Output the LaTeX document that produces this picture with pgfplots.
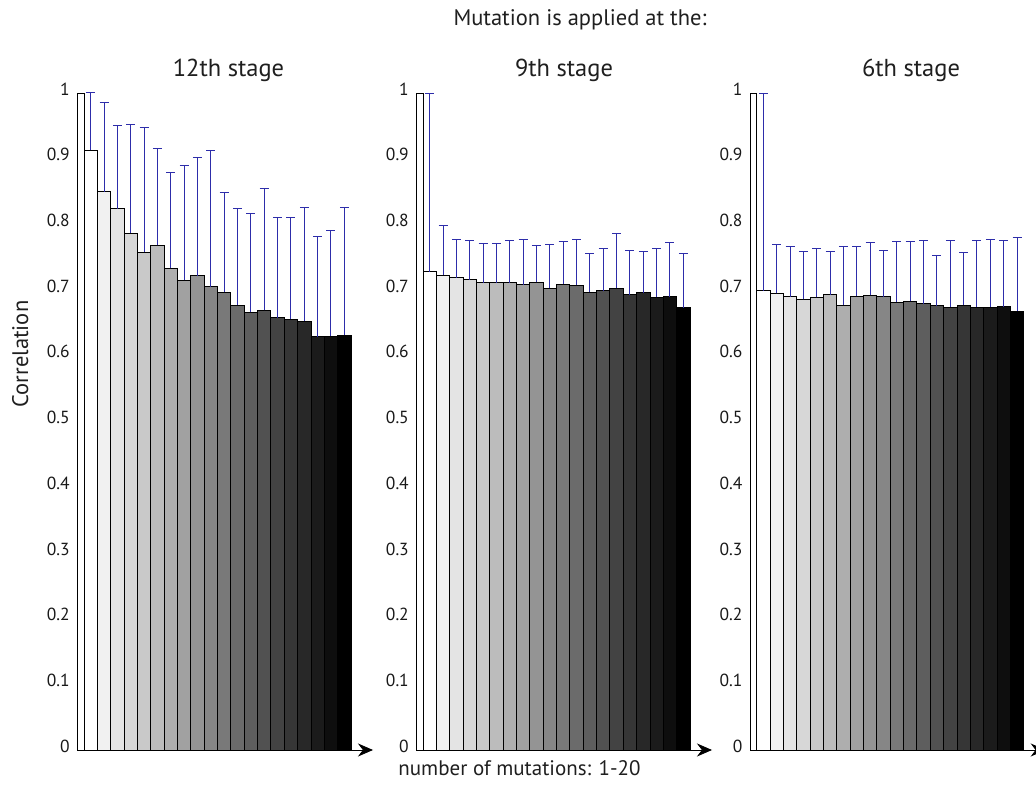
\documentclass[border=0pt]{standalone}
\usepackage{pgfplots}
\pgfplotsset{compat=1.18}
\usepackage{pgfplotstable}
\usepackage{fontspec}
\setmainfont{PT Sans}
\usetikzlibrary{arrows.meta}

\definecolor{eb}{RGB}{45,45,170}
\definecolor{g1}{gray}{1.000}
\definecolor{g2}{gray}{0.947}
\definecolor{g3}{gray}{0.895}
\definecolor{g4}{gray}{0.842}
\definecolor{g5}{gray}{0.789}
\definecolor{g6}{gray}{0.737}
\definecolor{g7}{gray}{0.684}
\definecolor{g8}{gray}{0.632}
\definecolor{g9}{gray}{0.579}
\definecolor{g10}{gray}{0.526}
\definecolor{g11}{gray}{0.474}
\definecolor{g12}{gray}{0.421}
\definecolor{g13}{gray}{0.368}
\definecolor{g14}{gray}{0.316}
\definecolor{g15}{gray}{0.263}
\definecolor{g16}{gray}{0.211}
\definecolor{g17}{gray}{0.158}
\definecolor{g18}{gray}{0.105}
\definecolor{g19}{gray}{0.053}
\definecolor{g20}{gray}{0.000}

% i = number of mutations, v = mean correlation, t = top of error bar
\pgfplotstableread{
i v t
1 0.913 1.000
2 0.850 0.985
3 0.824 0.951
4 0.787 0.952
5 0.758 0.947
6 0.768 0.915
7 0.733 0.879
8 0.715 0.890
9 0.722 0.902
10 0.705 0.912
11 0.697 0.848
12 0.677 0.824
13 0.666 0.816
14 0.669 0.854
15 0.658 0.811
16 0.656 0.811
17 0.653 0.825
18 0.629 0.782
19 0.630 0.790
20 0.631 0.825
}\dataA
\pgfplotstableread{
i v t
1 0.728 0.999
2 0.723 0.799
3 0.719 0.777
4 0.716 0.776
5 0.711 0.771
6 0.711 0.771
7 0.711 0.776
8 0.708 0.777
9 0.712 0.768
10 0.703 0.770
11 0.709 0.774
12 0.707 0.777
13 0.697 0.756
14 0.699 0.764
15 0.703 0.786
16 0.693 0.761
17 0.696 0.758
18 0.689 0.763
19 0.690 0.773
20 0.673 0.755
}\dataB
\pgfplotstableread{
i v t
1 0.699 0.999
2 0.695 0.769
3 0.690 0.766
4 0.686 0.758
5 0.689 0.763
6 0.693 0.758
7 0.677 0.767
8 0.691 0.766
9 0.692 0.772
10 0.690 0.760
11 0.682 0.774
12 0.683 0.774
13 0.679 0.775
14 0.676 0.752
15 0.674 0.776
16 0.677 0.757
17 0.674 0.776
18 0.674 0.777
19 0.675 0.776
20 0.668 0.780
}\dataC

\pgfplotsset{
  panel/.style={
    at={(#1,39bp)}, anchor=south west,
    x=13.35bp, y=657bp,
    xmin=0, xmax=22.15, ymin=0, ymax=1,
    clip=false,
    axis lines=left,
    x axis line style={-{Stealth[length=15bp,width=13bp]}, line width=0.9bp, black},
    y axis line style={-, line width=0.8bp, black},
    xtick=\empty,
    ytick={0,0.1,0.2,0.3,0.4,0.5,0.6,0.7,0.8,0.9,1},
    yticklabels={0,0.1,0.2,0.3,0.4,0.5,0.6,0.7,0.8,0.9,1},
    tick align=inside, major tick length=6bp,
    tick style={black, line width=0.7bp},
    /pgf/number format/assume math mode=true,
    yticklabel style={font=\fontsize{17.5bp}{20bp}\selectfont, text=black!90, yshift=4bp, xshift=-4bp},
  },
  bar/.style={ybar, bar width=1, bar shift=0pt, fill=g#1, draw=black, line width=0.8bp,
    restrict x to domain=#1:#1,
    error bars/.cd, y dir=plus, y explicit,
    error mark=-,
    error bar style={draw=eb, line width=1bp},
    error mark options={draw=eb, line width=1bp, rotate=90, mark size=4.5bp}},
}

\begin{document}
\begin{tikzpicture}
\path[use as bounding box] (0,0) rectangle (1036bp,789bp);

\begin{axis}[panel=77.3bp]
\addplot[ybar, bar width=0.5, bar shift=0pt, fill=white, draw=black, line width=0.8bp] coordinates {(0.25,1)};
\pgfplotsinvokeforeach{1,...,20}{
  \addplot[bar=#1] table[x=i, y=v, y error expr=\thisrow{t}-\thisrow{v}] {\dataA};
}
\end{axis}

\begin{axis}[panel=416.3bp]
\addplot[ybar, bar width=0.5, bar shift=0pt, fill=white, draw=black, line width=0.8bp] coordinates {(0.25,1)};
\pgfplotsinvokeforeach{1,...,20}{
  \addplot[bar=#1] table[x=i, y=v, y error expr=\thisrow{t}-\thisrow{v}] {\dataB};
}
\end{axis}

\begin{axis}[panel=750bp]
\addplot[ybar, bar width=0.5, bar shift=0pt, fill=white, draw=black, line width=0.8bp] coordinates {(0.25,1)};
\pgfplotsinvokeforeach{1,...,20}{
  \addplot[bar=#1] table[x=i, y=v, y error expr=\thisrow{t}-\thisrow{v}] {\dataC};
}
\end{axis}

\node[anchor=base, font=\fontsize{22.5bp}{26bp}\selectfont, text=black!88] at (580bp,763bp) {Mutation is applied at the:};
\node[anchor=base, font=\fontsize{24.5bp}{28bp}\selectfont, text=black!88] at (228.5bp,712.3bp) {12th stage};
\node[anchor=base, font=\fontsize{24.5bp}{28bp}\selectfont, text=black!88] at (564bp,712.3bp) {9th stage};
\node[anchor=base, font=\fontsize{24.5bp}{28bp}\selectfont, text=black!88] at (911bp,712.3bp) {6th stage};
\node[anchor=base, font=\fontsize{22.5bp}{26bp}\selectfont, text=black!88, rotate=90] at (28bp,435bp) {Correlation};
\node[anchor=base, font=\fontsize{21bp}{25bp}\selectfont, text=black!88] at (519.5bp,14bp) {number of mutations: 1-20};
\end{tikzpicture}
\end{document}
